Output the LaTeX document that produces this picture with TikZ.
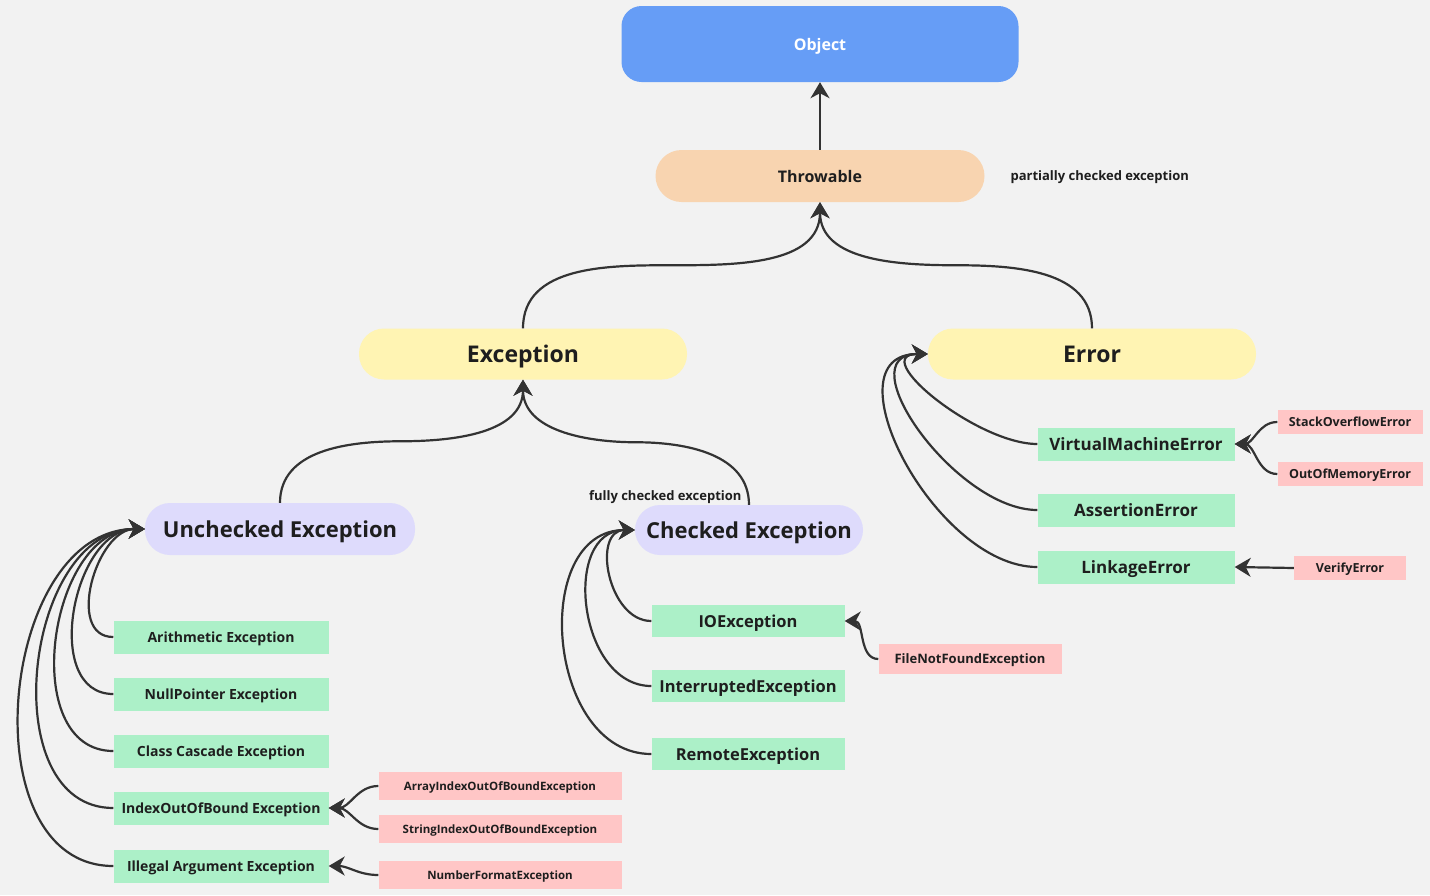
\documentclass[tikz,border=0pt]{standalone}
\usepackage{fontspec}
\setmainfont{Open Sans}
\usepackage{tikz}
\usetikzlibrary{arrows.meta,calc}
\definecolor{exBg}{HTML}{F2F2F2}
\definecolor{exInk}{HTML}{1E1E1E}
\definecolor{exLine}{HTML}{333333}
\definecolor{exBlue}{HTML}{669DF6}
\definecolor{exPeach}{HTML}{F8D4B0}
\definecolor{exYellow}{HTML}{FFF4B3}
\definecolor{exLavender}{HTML}{DEDBFC}
\definecolor{exGreen}{HTML}{ACF0C8}
\definecolor{exPink}{HTML}{FFC6C6}
\newcommand{\fsz}[1]{\fontsize{#1}{#1}\selectfont}
\tikzset{
  % Root box (blue)
  objbox/.style={rectangle,rounded corners=20pt,
    minimum width=397pt,minimum height=76pt,inner sep=0pt,text depth=0pt,
    fill=exBlue,text=white,font=\fsz{16}\bfseries},
  % Throwable pill (peach)
  thrbox/.style={rectangle,rounded corners=26pt,
    minimum width=329pt,minimum height=52pt,inner sep=0pt,text depth=0pt,
    fill=exPeach,text=exInk,font=\fsz{16}\bfseries},
  % Exception / Error pill (yellow)
  ybox/.style={rectangle,rounded corners=25pt,
    minimum width=328pt,minimum height=51pt,inner sep=0pt,text depth=0pt,
    fill=exYellow,text=exInk,font=\fsz{23}\bfseries},
  % Checked / unchecked pill (lavender)
  lbox/.style={rectangle,rounded corners=25pt,
    minimum width=270pt,minimum height=52pt,inner sep=0pt,text depth=0pt,
    fill=exLavender,text=exInk,font=\fsz{22}\bfseries},
  % Subclass box (green)
  gbox/.style={rectangle,minimum width=215pt,minimum height=33pt,
    inner sep=0pt,text depth=0pt,fill=exGreen,text=exInk,font=\fsz{14}\bfseries},
  % Leaf box (pink)
  pbox/.style={rectangle,minimum width=243pt,minimum height=28pt,
    inner sep=0pt,text depth=0pt,fill=exPink,text=exInk,font=\fsz{11.5}\bfseries},
  % Arrows
  arr/.style={-{Stealth[length=16pt,width=19pt,inset=5pt]},line width=2.2pt,draw=exLine},
  lbl/.style={font=\fsz{13}\bfseries,text=exInk},
}
\begin{document}
\begin{tikzpicture}[x=1pt,y=1pt]
  \fill[exBg] (0,0) rectangle (1430,-895);
  \useasboundingbox (0,0) rectangle (1430,-895);

  % Top of the tree
  \node[objbox] (obj) at (820,-44) {Object};
  \node[thrbox] (thr) at (820,-176) {Throwable};
  \node[lbl,anchor=west] (pce) at (1007,-177) {partially checked exception};
  \node[ybox] (exc) at (523,-354) {Exception};
  \node[ybox] (err) at (1092,-354) {Error};

  \node[lbox] (unc) at (280,-529) {Unchecked Exception};
  \node[lbox,minimum width=228pt,minimum height=50pt] (chk) at (749,-530) {Checked Exception};
  \node[lbl,anchor=east] (fce) at (745,-497) {fully checked exception};

  % Unchecked subclasses
  \node[gbox] (ari) at (221,-637) {Arithmetic Exception};
  \node[gbox] (nul) at (221,-694) {NullPointer Exception};
  \node[gbox] (ccs) at (221,-751) {Class Cascade Exception};
  \node[gbox] (iob) at (221,-808) {IndexOutOfBound Exception};
  \node[gbox] (ill) at (221,-866) {Illegal Argument Exception};
  \node[pbox] (aio) at (500,-786) {ArrayIndexOutOfBoundException};
  \node[pbox] (sio) at (500,-829) {StringIndexOutOfBoundException};
  \node[pbox] (nfe) at (500,-875) {NumberFormatException};

  % Checked subclasses
  \node[gbox,minimum width=193pt,minimum height=32pt,font=\fsz{16.5}\bfseries] (ioe) at (748,-621) {IOException};
  \node[gbox,minimum width=193pt,minimum height=32pt,font=\fsz{16.5}\bfseries] (ine) at (748,-686) {InterruptedException};
  \node[gbox,minimum width=193pt,minimum height=32pt,font=\fsz{16.5}\bfseries] (rme) at (748,-754) {RemoteException};
  \node[pbox,minimum width=183pt,minimum height=30pt,font=\fsz{13}\bfseries] (fnf) at (970,-659) {FileNotFoundException};

  % Error subclasses
  \node[gbox,minimum width=197pt,font=\fsz{17}\bfseries] (vme) at (1136,-444) {VirtualMachineError};
  \node[gbox,minimum width=197pt,font=\fsz{17}\bfseries] (ase) at (1136,-510) {AssertionError};
  \node[gbox,minimum width=197pt,font=\fsz{17}\bfseries] (lnk) at (1136,-567) {LinkageError};
  \node[pbox,minimum width=145pt,minimum height=24pt,font=\fsz{12.5}\bfseries] (soe) at (1350,-422) {StackOverflowError};
  \node[pbox,minimum width=145pt,minimum height=24pt,font=\fsz{12.5}\bfseries] (oom) at (1350,-474) {OutOfMemoryError};
  \node[pbox,minimum width=112pt,minimum height=24pt,font=\fsz{12.5}\bfseries] (vfe) at (1350,-568) {VerifyError};

  % Connectors
  \draw[arr] (thr.north) -- (obj.south);
  \draw[arr] (exc.north) to[out=90,in=180] ($(exc.north)!.5!(thr.south)$) to[out=0,in=-90] (thr.south);
  \draw[arr] (err.north) to[out=90,in=0] ($(err.north)!.5!(thr.south)$) to[out=180,in=-90] (thr.south);
  \draw[arr] (unc.north) to[out=90,in=180] ($(unc.north)!.5!(exc.south)$) to[out=0,in=-90] (exc.south);
  \draw[arr] (chk.north) to[out=90,in=0] ($(chk.north)!.5!(exc.south)$) to[out=180,in=-90] (exc.south);

  \foreach \c in {ari,nul,ccs,iob,ill}
    \draw[arr] (\c.west) to[out=180,in=180,looseness=1.1] (unc.west);
  \foreach \c in {ioe,ine,rme}
    \draw[arr] (\c.west) to[out=180,in=180,looseness=1.2] (chk.west);
  \foreach \c in {vme,ase,lnk}
    \draw[arr] (\c.west) to[out=180,in=180,looseness=1.1] (err.west);

  \draw[arr] (aio.west) to[out=180,in=0] (iob.east);
  \draw[arr] (sio.west) to[out=180,in=0] (iob.east);
  \draw[arr] (nfe.west) to[out=180,in=0] (ill.east);
  \draw[arr] (fnf.west) to[out=180,in=0] (ioe.east);
  \draw[arr] (soe.west) to[out=180,in=0] (vme.east);
  \draw[arr] (oom.west) to[out=180,in=0] (vme.east);
  \draw[arr] (vfe.west) -- (lnk.east);
\end{tikzpicture}
\end{document}
